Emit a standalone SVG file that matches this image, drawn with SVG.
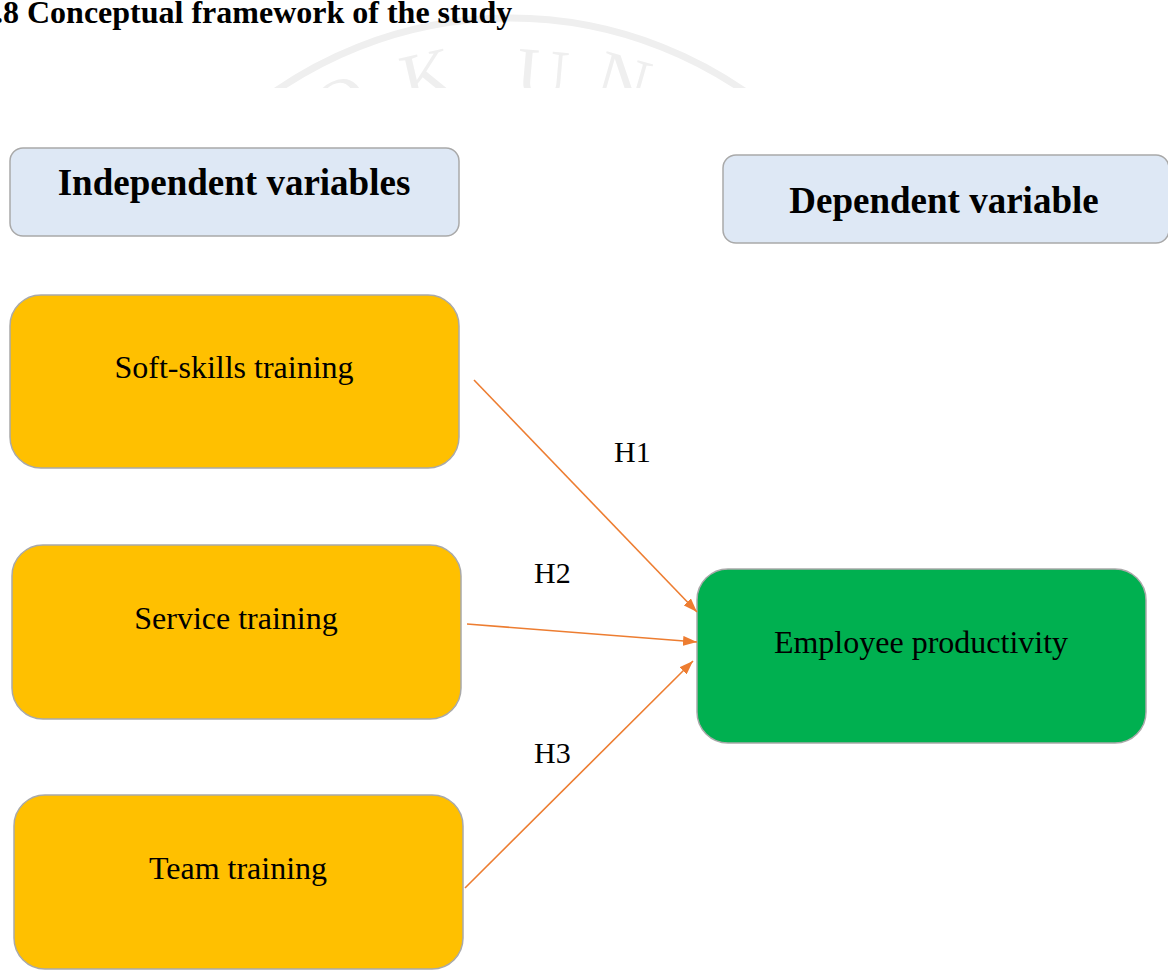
<svg xmlns="http://www.w3.org/2000/svg" width="1168" height="973" viewBox="0 0 1168 973">
  <defs>
    <style>
      .title { font-family: "Liberation Serif", "Times New Roman", serif; font-weight: bold; font-size: 32px; fill: #000; }
      .head-box { fill: #dee8f5; stroke: #a9a9a9; stroke-width: 1.5; }
      .head-text { font-family: "Liberation Serif", "Times New Roman", serif; font-weight: bold; font-size: 37px; fill: #000; text-anchor: middle; }
      .iv-box { fill: #ffc000; stroke: #a9a9a9; stroke-width: 1.5; }
      .dv-box { fill: #00b050; stroke: #a9a9a9; stroke-width: 1.5; }
      .node-text { font-family: "Liberation Serif", "Times New Roman", serif; font-size: 32px; fill: #000; text-anchor: middle; }
      .hyp { font-family: "Liberation Serif", "Times New Roman", serif; font-size: 30px; fill: #000; }
      .link { stroke: #ed7d31; stroke-width: 1.6; fill: none; marker-end: url(#arrow); }
      .wm { fill: #efefef; font-family: "Liberation Serif", "Times New Roman", serif; font-size: 72px; }
    </style>
    <marker id="arrow" viewBox="0 0 14 10" refX="14" refY="5" markerWidth="14" markerHeight="10" markerUnits="userSpaceOnUse" orient="auto">
      <path d="M0,0 L14,5 L0,10 z" fill="#ed7d31"/>
    </marker>
    <clipPath id="wm-clip">
      <rect x="0" y="0" width="1168" height="88"/>
    </clipPath>
  </defs>

  <rect width="1168" height="973" fill="#ffffff"/>

  <!-- faint seal behind the heading -->
  <g id="seal" clip-path="url(#wm-clip)">
    <path d="M 98 430 A 412 412 0 0 1 922 430" fill="none" stroke="#efefef" stroke-width="7"/>
    <text class="wm" x="340" y="128" text-anchor="middle" transform="rotate(-25 340 100)">O</text>
    <text class="wm" x="428" y="100" text-anchor="middle" transform="rotate(-13 428 80)">K</text>
    <text class="wm" x="542" y="98" text-anchor="middle" transform="rotate(5 542 80)">U</text>
    <text class="wm" x="622" y="104" text-anchor="middle" transform="rotate(16 622 85)">N</text>
  </g>

  <text id="title" class="title" x="-5" y="23">.8 Conceptual framework of the study</text>

  <g id="header-independent">
    <rect class="head-box" x="10" y="148" width="449" height="88" rx="13"/>
    <text class="head-text" x="234" y="195">Independent variables</text>
  </g>

  <g id="header-dependent">
    <rect class="head-box" x="723" y="155" width="446" height="88" rx="13"/>
    <text class="head-text" x="944" y="213">Dependent variable</text>
  </g>

  <g id="soft-skills">
    <rect class="iv-box" x="10" y="295" width="449" height="173" rx="31"/>
    <text class="node-text" x="234" y="378">Soft-skills training</text>
  </g>

  <g id="service">
    <rect class="iv-box" x="12" y="545" width="449" height="174" rx="31"/>
    <text class="node-text" x="236" y="629">Service training</text>
  </g>

  <g id="team">
    <rect class="iv-box" x="14" y="795" width="449" height="174" rx="31"/>
    <text class="node-text" x="238" y="879">Team training</text>
  </g>

  <g id="productivity">
    <rect class="dv-box" x="697" y="569" width="449" height="174" rx="31"/>
    <text class="node-text" x="921" y="653">Employee productivity</text>
  </g>

  <g id="connectors">
    <line class="link" x1="474" y1="380" x2="697" y2="612"/>
    <line class="link" x1="467" y1="624" x2="697" y2="642"/>
    <line class="link" x1="465" y1="888" x2="693" y2="661"/>
    <text class="hyp" x="614" y="462">H1</text>
    <text class="hyp" x="534" y="583">H2</text>
    <text class="hyp" x="534" y="763">H3</text>
  </g>
</svg>
